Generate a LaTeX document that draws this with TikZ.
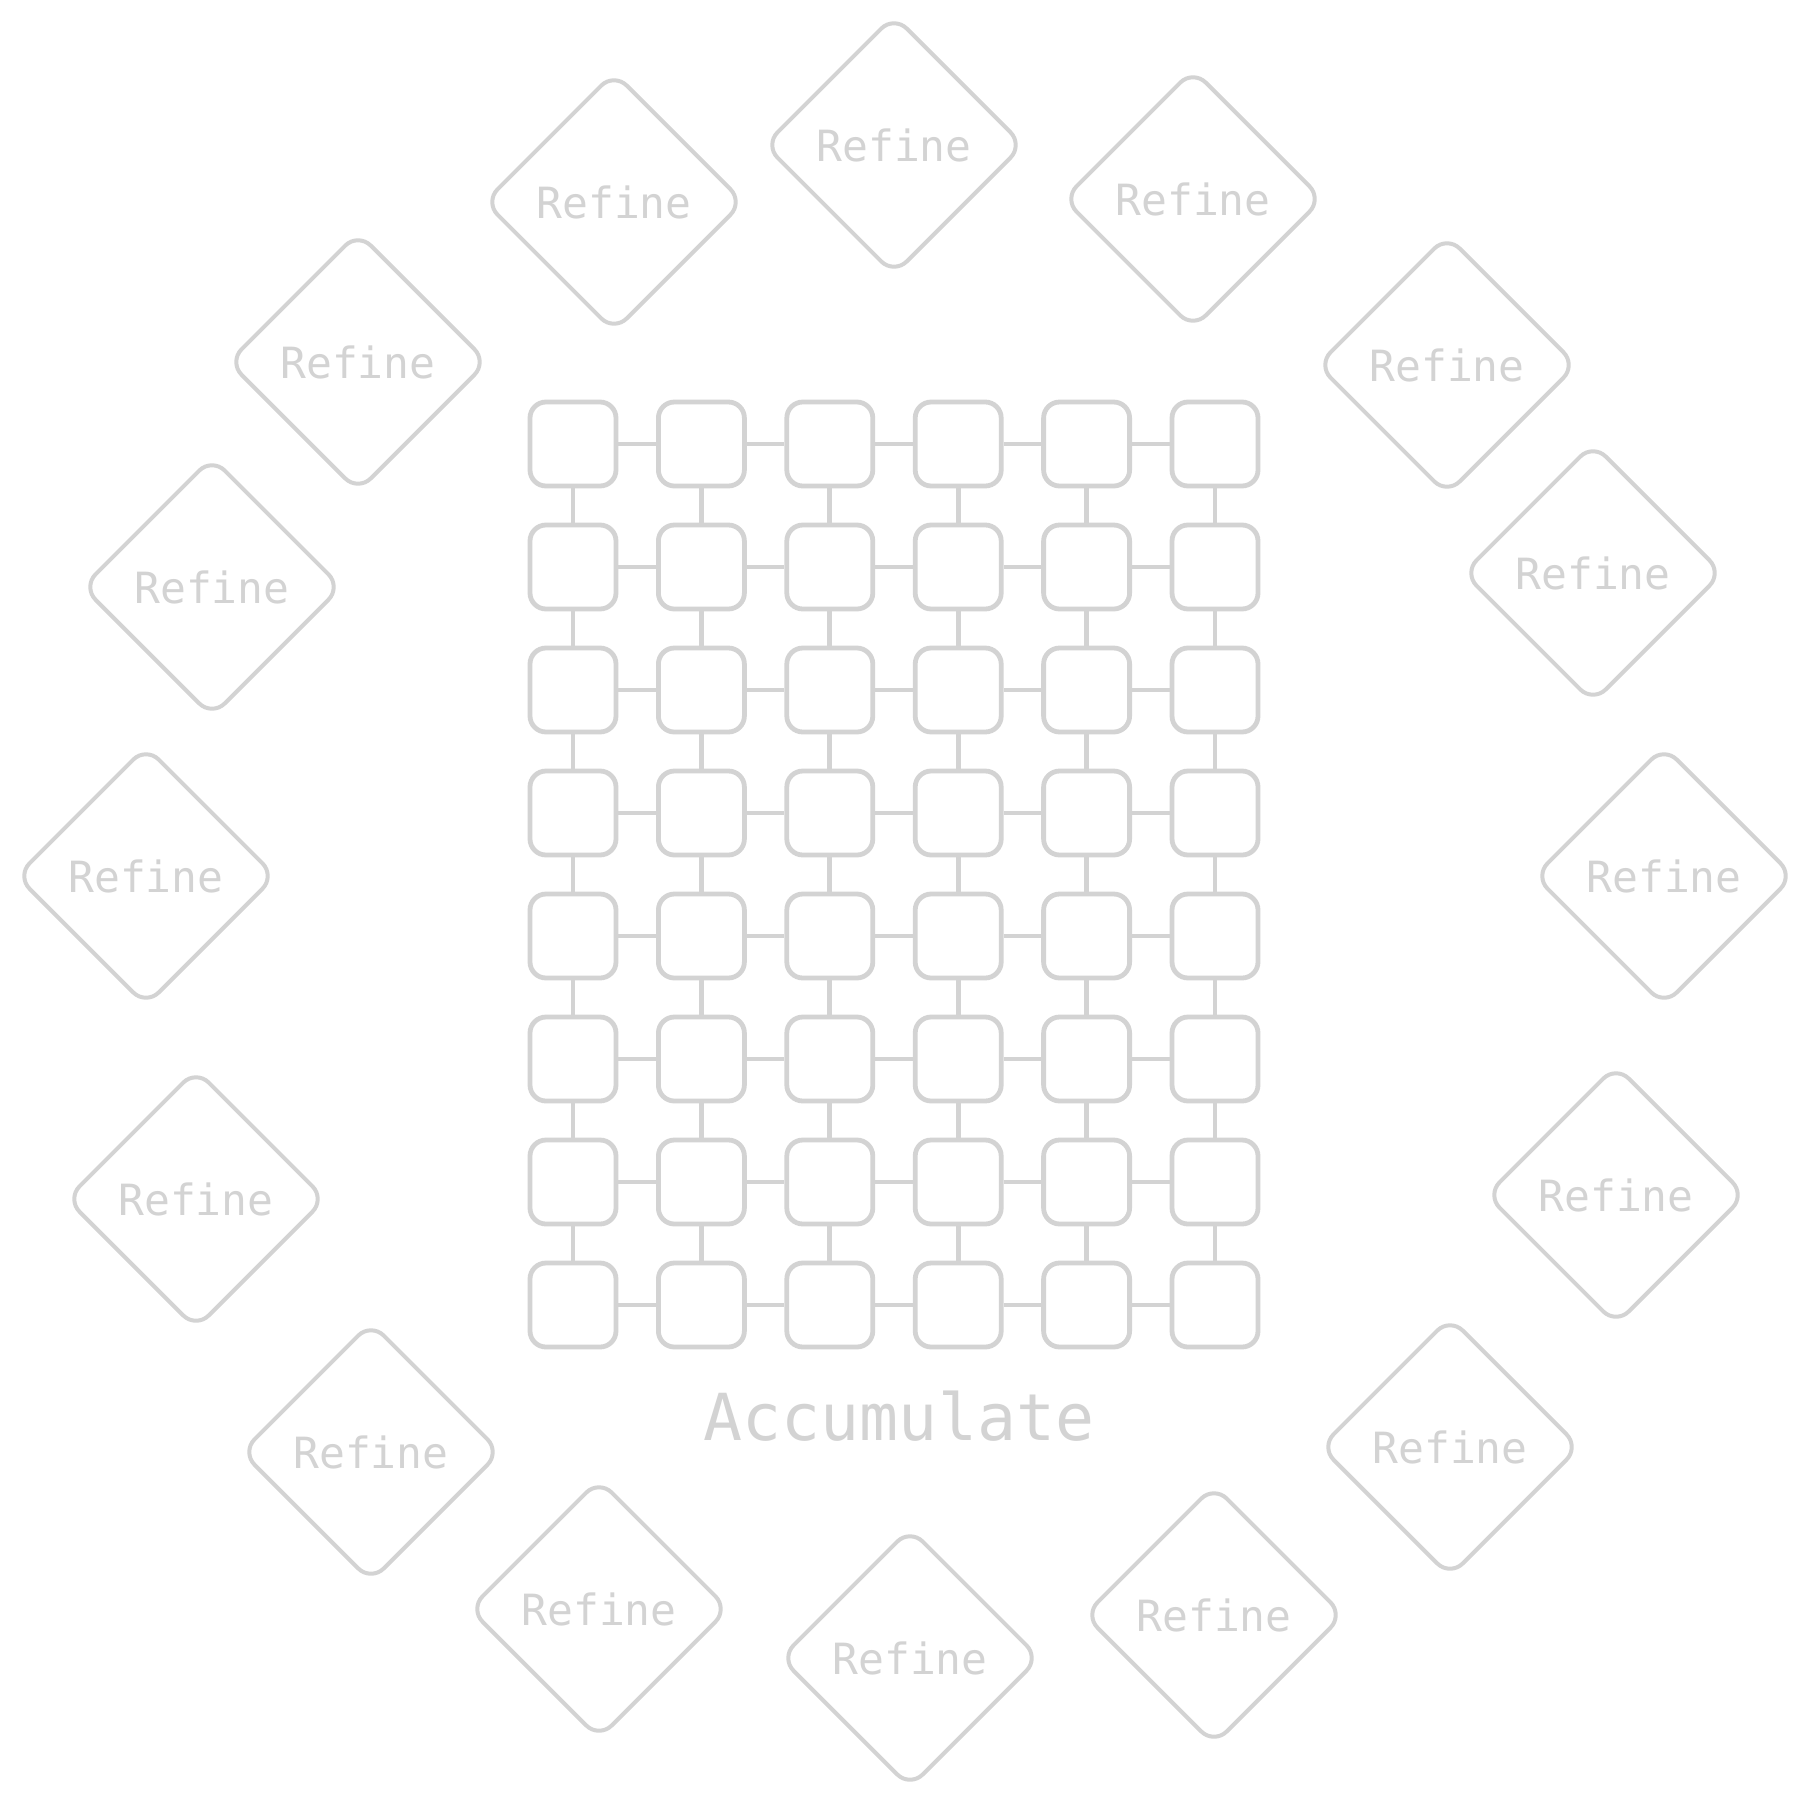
\documentclass[tikz,border=0pt]{standalone}
\usepackage{fontspec}
\setmainfont{DejaVu Sans Mono}
\usetikzlibrary{shapes.geometric}
\definecolor{gr}{HTML}{D3D3D3}
\begin{document}
\begin{tikzpicture}[x=0.5pt,y=-0.5pt,
  cell/.style={draw=gr, line width=2.4pt, rounded corners=8pt, minimum width=43pt, minimum height=42pt, inner sep=0pt},
  refine/.style={diamond, draw=gr, line width=2pt, rounded corners=9pt, minimum width=130pt, minimum height=130pt, inner sep=0pt, text=gr, font=\fontsize{21.5}{26}\selectfont},
  link/.style={draw=gr, line width=2.4pt},
  acclabel/.style={text=gr, font=\fontsize{32.4}{38}\selectfont, anchor=base, inner sep=0pt}]
\useasboundingbox[fill=white] (0,0) rectangle (1809,1804);
% grid of cells
\foreach \i in {0,...,5} {
  \foreach \j in {0,...,7} {
    \node[cell] (b\i-\j) at ({573+128.4*\i},{444+123*\j}) {};
  }
}
% horizontal links
\foreach \i in {0,...,4} {
  \pgfmathtruncatemacro\k{\i+1}
  \foreach \j in {0,...,7} {
    \draw[link] (b\i-\j) -- (b\k-\j);
  }
}
% vertical links
\foreach \j in {0,...,6} {
  \pgfmathtruncatemacro\k{\j+1}
  \foreach \i in {0,...,5} {
    \draw[link] (b\i-\j) -- (b\i-\k);
  }
}
% refine diamonds
\foreach \n/\x/\y in {1/894/145, 2/614/202, 3/1193/199, 4/358/362, 5/1447/365,
  6/212/587, 7/1593/573, 8/146/876, 9/1664/876, 10/196/1199, 11/1616/1195,
  12/371/1452, 13/1450/1447, 14/599/1609, 15/1214/1615, 16/910/1658} {
  \node[refine] (d\n) at (\x,\y) {Refine};
}
\node[acclabel] (acc) at (899,1440) {Accumulate};
\end{tikzpicture}
\end{document}
